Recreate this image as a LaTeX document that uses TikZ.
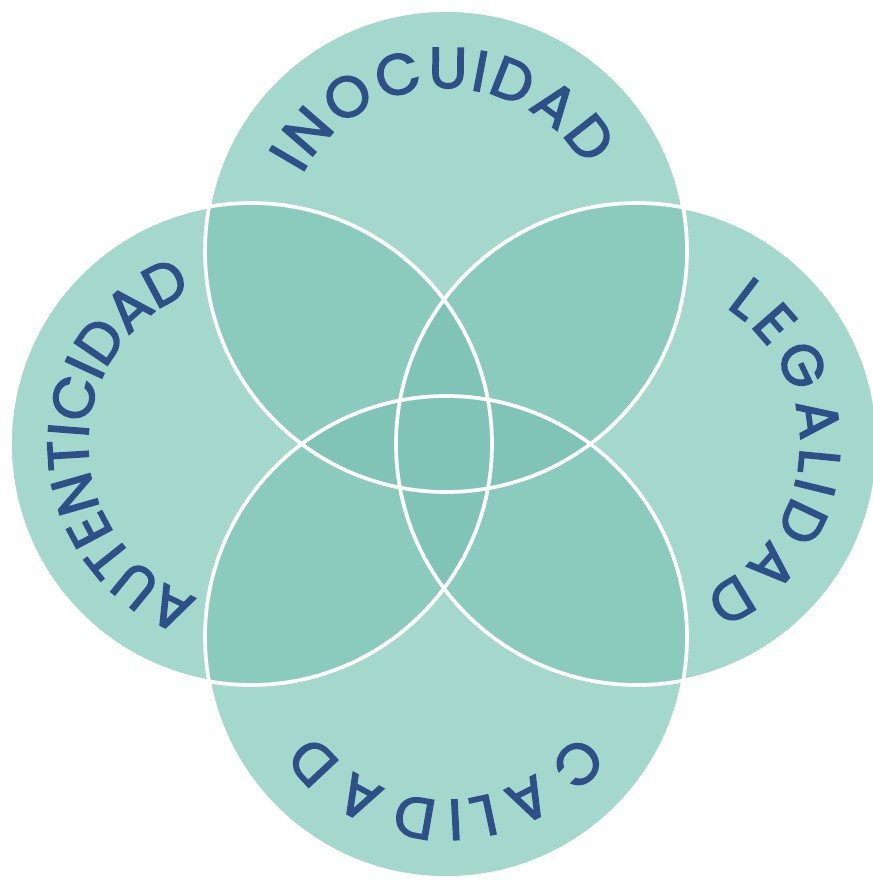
\documentclass[tikz,border=0pt]{standalone}
\usepackage{fontspec}
\newfontfamily\labfont{Poppins}[FakeBold=2.6]
\usetikzlibrary{decorations.text}
\definecolor{cone}{HTML}{A5D8CC}
\definecolor{ctwo}{HTML}{8BCBBE}
\definecolor{cthree}{HTML}{7FC4B7}
\definecolor{tblue}{HTML}{2E5088}
\newcommand\wordfont{\labfont\fontsize{49}{52}\selectfont}
\tikzset{
  ring/.style={draw=white, line width=3.2pt},
  word/.style={decorate, decoration={text effects along path, text={#1}, text align=center,
     text effects/.cd, text along path, fit text to path,
     characters={font=\wordfont, text=tblue, inner sep=0pt}}}
}
\begin{document}
\begin{tikzpicture}[x=0.03cm,y=0.03cm]
\useasboundingbox (0,0) rectangle (873,-882);
\fill[white] (0,0) rectangle (873,-882);
\clip (0,0) rectangle (873,-882);
\def\R{241}
\coordinate (T) at (446,-251);
\coordinate (B) at (446,-637);
\coordinate (L) at (251,-444);
\coordinate (Rt) at (637,-444);
% single regions
\fill[cone] (T) circle[radius=\R] (B) circle[radius=\R];
\fill[cone] (L) circle[radius=\R] (Rt) circle[radius=\R];
% pairwise overlaps
\begin{scope}
  \clip (T) circle[radius=\R];
  \fill[ctwo] (L) circle[radius=\R] (Rt) circle[radius=\R];
\end{scope}
\begin{scope}
  \clip (B) circle[radius=\R];
  \fill[ctwo] (L) circle[radius=\R] (Rt) circle[radius=\R];
\end{scope}
% triple and quadruple overlaps
\begin{scope}
  \clip (T) circle[radius=\R];
  \clip (B) circle[radius=\R];
  \fill[cthree] (L) circle[radius=\R] (Rt) circle[radius=\R];
\end{scope}
\begin{scope}
  \clip (L) circle[radius=\R];
  \clip (Rt) circle[radius=\R];
  \fill[cthree] (T) circle[radius=\R] (B) circle[radius=\R];
\end{scope}
% outlines
\draw[ring] (T) circle[radius=\R];
\draw[ring] (B) circle[radius=\R];
\draw[ring] (L) circle[radius=\R];
\draw[ring] (Rt) circle[radius=\R];
% labels
\path[word={INOCUIDAD}] ([shift={(T)}]152:163) arc[start angle=152, end angle=31, radius=163];
\path[word={LEGALIDAD}] ([shift={(Rt)}]57:163) arc[start angle=57, end angle=-66, radius=163];
\path[word={CALIDAD}] ([shift={(B)}]-36:163) arc[start angle=-36, end angle=-144, radius=163];
\path[word={AUTENTICIDAD}] ([shift={(L)}]251:163) arc[start angle=251, end angle=111, radius=163];
\end{tikzpicture}
\end{document}
